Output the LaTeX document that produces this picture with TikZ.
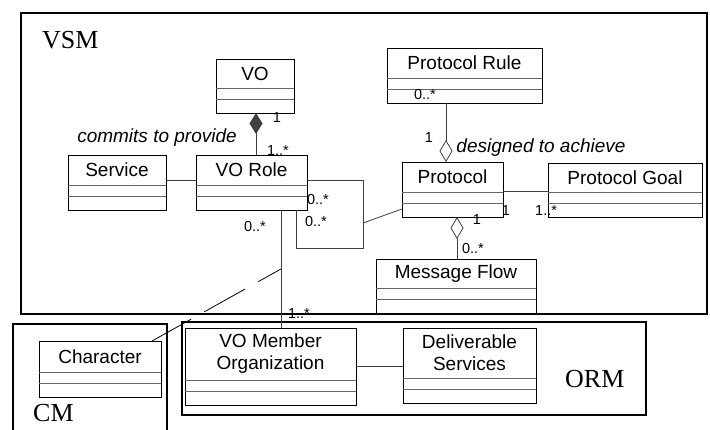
\documentclass[tikz,border=0pt]{standalone}
\usepackage{fontspec}
\setmainfont{Liberation Sans}
\newfontfamily\serifmodel{Liberation Serif}
\usetikzlibrary{arrows.meta,calc}
\newcommand\umlclass[6]{%
  \node[clsbox, anchor=north west, minimum width=#4pt, minimum height=#5pt] (#1) at (#2,#3) {};
  \draw[div] ([yshift=25pt]#1.south west) -- ([yshift=25pt]#1.south east);
  \draw[div] ([yshift=14pt]#1.south west) -- ([yshift=14pt]#1.south east);
  \node[clsname] (#1-t) at ($(#1.north)!0.5!([yshift=25pt]#1.south)$) {#6};
}
\begin{document}
\begin{tikzpicture}[x=1pt,y=-1pt,
  clsbox/.style={draw=black, fill=white, line width=0.9pt, inner sep=0pt, outer sep=0pt},
  div/.style={draw=black!60, line width=0.9pt},
  clsname/.style={font=\fontsize{19}{22}\selectfont, inner sep=0pt, align=center},
  mult/.style={font=\fontsize{14.5}{16}\selectfont, inner sep=0pt},
  rolelbl/.style={font=\fontsize{19}{22}\selectfont\itshape, inner sep=0pt},
  pkg/.style={draw=black, line width=1.4pt},
  pkgname/.style={font=\serifmodel\fontsize{26}{28}\selectfont, inner sep=0pt},
  conn/.style={draw=black!75, line width=0.8pt},
  fdiam/.style={{Diamond[length=21pt,width=13pt]}-},
  odiam/.style={{Diamond[open,length=22pt,width=13pt,fill=white]}-},
]
\useasboundingbox (0,0) rectangle (710,430);
% packages
\node[pkg, anchor=north west, minimum width=686pt, minimum height=301pt, inner sep=0pt, outer sep=0pt] (VSMbox) at (21,13) {};
\node[pkg, anchor=north west, minimum width=464pt, minimum height=93pt, inner sep=0pt, outer sep=0pt] (ORMbox) at (182,322) {};
\draw[pkg] (13,440) -- (13,324) -- (167,324) -- (167,440);
\node[pkgname, anchor=base west] (vsmL) at (42,49) {VSM};
\node[pkgname, anchor=base west] (cmL) at (33,421) {CM};
\node[pkgname, anchor=base west] (ormL) at (565,388) {ORM};
% coordinates
\coordinate (xcomp) at (256,0);
\coordinate (yserv) at (0,180);
\coordinate (lpA) at (363,248);
\coordinate (lpB) at (296,248);
\coordinate (lpM) at (363,223);
\coordinate (ypw) at (0,209);
\coordinate (xagg) at (446,0);
\coordinate (ygoal) at (0,191);
\coordinate (xmf) at (457,0);
\coordinate (xvom) at (281,0);
\coordinate (dj) at (281,269);
\coordinate (xch) at (152,0);
\coordinate (yorg) at (0,366);
% classes
\umlclass{VO}{216}{59}{78}{54}{VO}
\umlclass{Service}{68}{155}{98}{55}{Service}
\umlclass{VORole}{196}{155}{111}{55}{VO Role}
\umlclass{PRule}{387}{48}{155}{55}{Protocol Rule}
\umlclass{Protocol}{402}{162}{101}{55}{Protocol}
\umlclass{PGoal}{548}{163}{154}{54}{Protocol Goal}
\umlclass{MF}{376}{259}{160}{54}{Message Flow}
\umlclass{Character}{39}{341}{122}{56}{Character}
\umlclass{VOM}{185}{328}{171}{77}{VO Member\\Organization}
\umlclass{DS}{403}{328}{133}{75}{Deliverable\\Services}
% connectors
\draw[conn, fdiam] (VO.south -| xcomp) -- (VORole.north -| xcomp);
\draw[conn] (Service.east |- yserv) -- (VORole.west |- yserv);
\draw[conn] (VORole.east |- yserv) -| (lpA) -- (lpB) -- (lpB |- VORole.south);
\draw[conn] (lpM) -- (Protocol.west |- ypw);
\draw[conn, odiam] (Protocol.north -| xagg) -- (PRule.south -| xagg);
\draw[conn] (Protocol.east |- ygoal) -- (PGoal.west |- ygoal);
\draw[conn, odiam] (Protocol.south -| xmf) -- (MF.north -| xmf);
\draw[conn] (VORole.south -| xvom) -- (VOM.north -| xvom);
\draw[conn] (VOM.east |- yorg) -- (DS.west |- yorg);
\draw[conn, black, dash pattern=on 26pt off 15pt on 47pt off 15pt on 60pt off 0pt] (dj) -- (Character.north -| xch);
% labels
\node[rolelbl] (commits) at (157,138) {commits to provide};
\node[rolelbl] (designed) at (541,148) {designed to achieve};
\node[mult] (m1) at (277,118) {1};
\node[mult] (m2) at (278,151) {1..*};
\node[mult] (m3) at (425,95) {0..*};
\node[mult] (m4) at (429,138) {1};
\node[mult] (m5) at (506,211) {1};
\node[mult, anchor=west] (m6) at (535,211) {1..*};
\node[mult] (m7) at (477,220) {1};
\node[mult] (m8) at (473,249) {0..*};
\node[mult] (m9) at (318,200) {0..*};
\node[mult] (m10) at (316,222) {0..*};
\node[mult] (m11) at (255,227) {0..*};
\node[mult] (m12) at (299,314) {1..*};
\end{tikzpicture}
\end{document}
